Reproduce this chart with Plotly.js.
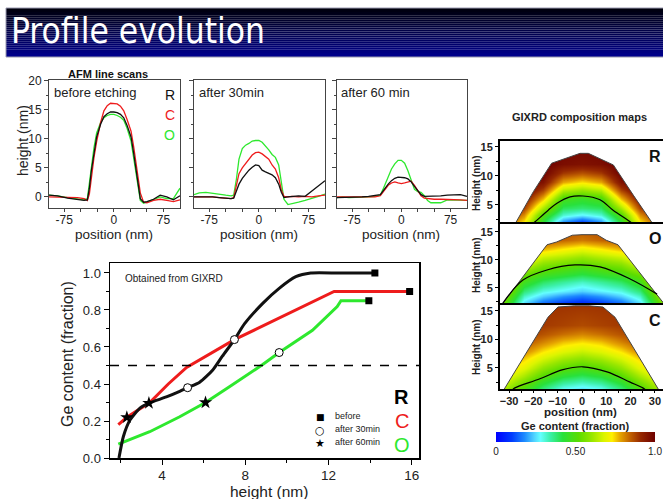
<!DOCTYPE html>
<html><head><meta charset="utf-8">
<script src="https://cdn.plot.ly/plotly-3.0.1.min.js"></script>
<style>html,body{margin:0;padding:0;background:#fff}#plot{width:663px;height:499px}</style>
</head><body><div id="plot"></div>
<script>
// ---------- AFM line scans ----------
const afmX1 = [-98,-85,-70,-55,-45,-40,-37,-34,-30,-26,-20,-15,-10,-5,0,5,10,15,20,26,30,34,37,40,45,50,60,70,80,90,100];
const afm1R = [0.3,0.2,-0.2,-0.4,-0.6,-0.5,1.5,4.5,7.5,10.3,12.5,13.8,14.3,14.6,14.6,14.5,14.2,13.6,12.3,10.3,7.5,4.3,1.8,-0.3,-0.9,-0.8,-0.4,0.3,0,-0.5,0.2];
const afm1C = [0,0,0,-0.1,-0.3,-0.6,0.5,3.5,6.8,9.5,12.8,14.8,15.7,16.1,16.1,16.0,15.6,14.8,13.3,11.3,8.6,5.2,2.8,0.7,-0.9,-1.0,-0.6,-0.4,-0.6,-0.8,-0.5];
const afm1O = [0.3,0.2,-0.1,-0.3,-0.5,-0.3,2.2,5.5,8.5,11,12.8,13.6,14.0,14.2,14.2,14.0,13.7,13.2,11.8,9.6,6.6,3.4,1,-0.6,-1.1,-0.9,-0.5,0,-0.3,-0.3,1.5];

const afmX2 = [-98,-90,-80,-70,-60,-50,-42,-38,-34,-30,-25,-20,-15,-10,-5,0,5,10,15,20,25,30,34,38,44,50,60,70,80,90,100];
const afm2O = [0.4,0.7,0.8,0.6,0.5,0.3,0.2,0.3,3.0,6.5,8.3,8.9,9.2,9.6,9.7,9.7,9.4,8.8,8.1,7.3,6.8,5.5,2.5,-0.4,-1.3,-1.1,-0.9,-0.6,-0.3,0.1,0.5];
const afm2C = [0,0,0.1,0,-0.1,-0.2,-0.3,-0.1,2.0,4.0,5.0,5.8,6.6,7.2,7.6,7.7,7.4,6.9,6.5,5.5,4.8,3.3,1.2,0.1,0,0.1,0,0.1,0,0.2,0.3];
const afm2R = [0,0,0.1,0,-0.1,-0.2,-0.3,-0.2,1.0,2.2,3.2,4.0,4.6,5.1,5.5,5.4,4.6,4.3,4.1,3.8,3.3,2.2,0.8,-0.1,0,0.1,0.2,0.1,1.0,2.0,2.8];

const afmX3 = [-98,-90,-80,-70,-60,-50,-40,-32,-28,-24,-20,-15,-10,-5,0,5,10,15,20,25,30,35,40,45,50,60,70,80,90,100];
const afm3O = [-0.1,0,-0.1,-0.1,0,0,0.1,0.3,1.3,2.4,3.5,4.8,5.7,6.3,6.3,5.8,4.5,3.0,1.3,0.9,0.8,0.2,-0.6,-1.0,-1.0,-1.0,-0.5,-0.5,-0.6,-0.6];
const afm3R = [-0.1,-0.1,0,-0.1,0,0.1,0.2,0.4,1.0,1.7,2.2,2.8,3.2,3.4,3.4,3.3,3.1,2.6,1.8,1.0,0.4,0.1,0.1,0.2,0.2,0.2,0.3,0.4,0.4,0.1];
const afm3C = [0,0,-0.1,0,0,0,0,0.2,0.8,1.5,2.0,2.4,2.6,2.4,2.3,2.4,2.6,2.7,2.0,1.0,0.2,-0.2,-0.3,-0.4,-0.4,-0.4,-0.4,-0.5,-0.5,-0.6];
const afmTickVals = [-75,-50,-25,0,25,50,75];
const afmTickText = ['-75','','','0','','','75'];

// ---------- Ge content vs height ----------
const hR = [1.93,2.14,2.46,2.94,3.37,4.21,4.85,5.23,5.81,6.44,6.9,7.48,7.96,8.84,9.63,10.43,11.15,12.5,14.23];
const gR = [0.0,0.115,0.205,0.27,0.297,0.33,0.36,0.38,0.41,0.476,0.55,0.64,0.725,0.836,0.917,0.98,1.0,1.0,1.0];
const hC = [1.9,2.31,3.41,4.3,5.18,6.3,7.48,8.5,10.0,11.2,12.27,15.9];
const gC = [0.18,0.22,0.30,0.40,0.49,0.565,0.64,0.695,0.777,0.842,0.90,0.90];
const hO = [1.9,3.41,4.85,6.09,7.24,8.84,9.63,11.23,12.42,12.6,13.94];
const gO = [0.075,0.142,0.223,0.30,0.385,0.505,0.57,0.69,0.818,0.85,0.85];
const beforeH = [14.23,15.9,13.94], beforeG = [1.0,0.9,0.85];
const min30H = [5.23,7.48,9.63], min30G = [0.38,0.64,0.57];
const min60H = [3.37,2.31,6.09], min60G = [0.297,0.22,0.30];
const legendNames = ['before','after 30min','after 60min'];
const legendGlyphs = ['\u25A0','\u25CB','\u2605'];
const halfLevel = 0.5;

// ---------- GIXRD composition maps ----------
const mapX = [-36,-24,-16,-8,0,8,16,24,36];
const hsR = [1.5,2.3,3.2,4.5,6,7.5,9,10.5,12,16.5];
const zR = [
 [0.9,0.68,0.38,0.08,0.0,0.08,0.38,0.68,0.9],
 [0.95,0.74,0.44,0.2,0.12,0.2,0.44,0.74,0.95],
 [1,0.8,0.5,0.31,0.27,0.31,0.5,0.8,1],
 [1,0.88,0.62,0.4,0.38,0.4,0.62,0.88,1],
 [1,0.95,0.76,0.48,0.45,0.48,0.76,0.95,1],
 [1,1,0.88,0.64,0.6,0.64,0.88,1,1],
 [1,1,0.96,0.78,0.74,0.78,0.96,1,1],
 [1,1,1,0.89,0.86,0.89,1,1,1],
 [1,1,1,0.97,0.96,0.97,1,1,1],
 [1,1,1,1,1,1,1,1,1]];
const hsO = [1.5,2.5,3.5,4.5,6,7.5,9,10.5,12,13.5,16.5];
const zO = [
 [0.62,0.18,0.08,0.04,0.02,0.04,0.08,0.18,0.62],
 [0.67,0.26,0.16,0.11,0.08,0.11,0.16,0.26,0.67],
 [0.72,0.32,0.24,0.19,0.16,0.19,0.24,0.32,0.72],
 [0.76,0.38,0.30,0.27,0.24,0.27,0.30,0.38,0.76],
 [0.8,0.47,0.39,0.35,0.32,0.35,0.39,0.47,0.8],
 [0.84,0.55,0.48,0.45,0.42,0.45,0.48,0.55,0.84],
 [0.87,0.65,0.56,0.53,0.5,0.53,0.56,0.65,0.87],
 [0.88,0.75,0.66,0.63,0.6,0.63,0.66,0.75,0.88],
 [0.88,0.84,0.77,0.73,0.7,0.73,0.77,0.84,0.88],
 [0.88,0.88,0.86,0.84,0.82,0.84,0.86,0.88,0.88],
 [0.88,0.88,0.88,0.88,0.88,0.88,0.88,0.88,0.88]];
const hsC = [1.2,2.5,3.5,5,6.5,8,9.5,11,12.5,16.5];
const zC = [
 [0.68,0.48,0.36,0.27,0.24,0.27,0.36,0.48,0.68],
 [0.72,0.56,0.44,0.36,0.33,0.36,0.44,0.56,0.72],
 [0.76,0.62,0.51,0.43,0.40,0.43,0.51,0.62,0.76],
 [0.8,0.69,0.59,0.52,0.49,0.52,0.59,0.69,0.8],
 [0.84,0.75,0.67,0.61,0.58,0.61,0.67,0.75,0.84],
 [0.88,0.81,0.74,0.69,0.66,0.69,0.74,0.81,0.88],
 [0.9,0.86,0.81,0.76,0.74,0.76,0.81,0.86,0.9],
 [0.9,0.89,0.86,0.83,0.81,0.83,0.86,0.89,0.9],
 [0.9,0.9,0.89,0.88,0.87,0.88,0.89,0.9,0.9],
 [0.9,0.9,0.9,0.9,0.9,0.9,0.9,0.9,0.9]];
// dome outlines and 0.5 contour lines
const outXR = [-28.4,-20,-12.5,-6.3,-0.8,2.6,6.7,12.9,21.1,30.2];
const outHR = [1.1,7.3,12.2,13.1,13.9,13.9,13.1,11.9,6.7,1.1];
const conXR = [-21,-19.3,-13.9,-10.3,-4.9,0.4,7.4,12.8,19.8,21.5];
const conHR = [1.5,2.1,4.1,5.3,6.4,6.55,5.9,4.1,2.1,1.5];
const outXO = [-33.3,-14.4,-10.4,-4,0,6.2,10,14.8,30.9,34.5];
const outHO = [1.8,12.7,13.2,14.4,14.5,14.5,13.5,12.7,3.75,1.8];
const conXO = [-32.7,-24.3,-14.4,-2.9,7.4,19.8,30.9];
const conHO = [2.2,6.4,8.2,9.1,8.75,6.6,3.9];
const outXC = [-32.4,-14,-9.9,-3,3,8.6,13.6,31.8];
const outHC = [1.0,13.9,15.7,15.9,15.9,15.7,13.9,1.0];
const conXC = [-28.5,-27.6,-17.3,-8.2,0.4,10.3,19.8,25,26];
const conHC = [1.2,1.5,3.1,4.65,5.2,4.3,2.5,1.5,1.2];
const cbVals = [0,0.5,1], cbText = ['0','0.50','1.0'];

// ---------- layout helpers ----------
const W = 663, H = 499;
const fx = p => p / W, fy = p => 1 - p / H;
const BLACK = '#111111', RED = '#ee1c1c', GREEN = '#2ee82e';
const FONT = 'Liberation Sans, Arial, sans-serif';

const geScale = [
 [0.00,'rgb(0,0,255)'],[0.10,'rgb(0,60,255)'],[0.18,'rgb(30,140,255)'],
 [0.24,'rgb(80,210,255)'],[0.28,'rgb(100,255,255)'],[0.34,'rgb(60,240,170)'],
 [0.42,'rgb(40,225,60)'],[0.52,'rgb(90,220,0)'],[0.60,'rgb(150,230,0)'],
 [0.68,'rgb(220,245,0)'],[0.73,'rgb(255,240,0)'],[0.78,'rgb(230,165,0)'],
 [0.84,'rgb(195,100,0)'],[0.91,'rgb(150,40,0)'],[1.00,'rgb(110,0,0)']];

const traces = [];
function afmLines(xa, ya, xs, r, c, o){
  [[o,GREEN],[c,RED],[r,BLACK]].forEach(([y,col])=>{
    traces.push({type:'scatter',mode:'lines',x:xs,y:y,xaxis:xa,yaxis:ya,
      line:{color:col,width:1.3},showlegend:false,hoverinfo:'skip'});
  });
}
afmLines('x','y',afmX1,afm1R,afm1C,afm1O);
afmLines('x2','y2',afmX2,afm2R,afm2C,afm2O);
afmLines('x3','y3',afmX3,afm3R,afm3C,afm3O);

// Ge content chart
[[hO,gO,GREEN,'linear'],[hC,gC,RED,'linear'],[hR,gR,BLACK,'spline']].forEach(([x,y,col,sh])=>{
  traces.push({type:'scatter',mode:'lines',x:x,y:y,xaxis:'x4',yaxis:'y4',
    line:{color:col,width:3,shape:sh,smoothing:0.6},showlegend:false,hoverinfo:'skip'});
});
traces.push({type:'scatter',mode:'markers',name:legendNames[0],x:beforeH,y:beforeG,xaxis:'x4',yaxis:'y4',
  marker:{symbol:'square',size:7,color:'#000'},showlegend:false});
traces.push({type:'scatter',mode:'markers',name:legendNames[1],x:min30H,y:min30G,xaxis:'x4',yaxis:'y4',
  marker:{symbol:'circle',size:8,color:'#fff',line:{color:'#000',width:1}},showlegend:false});
traces.push({type:'scatter',mode:'markers',name:legendNames[2],x:min60H,y:min60G,xaxis:'x4',yaxis:'y4',
  marker:{symbol:'star',size:10,color:'#000'},showlegend:false});

// composition maps
function mapTraces(xa, ya, hs, z, ox, oh, cx, ch, showScale){
  const t = {type:'heatmap',x:mapX,y:hs,z:z,xaxis:xa,yaxis:ya,zmin:0,zmax:1,
    colorscale:geScale,zsmooth:'best',showscale:showScale,hoverinfo:'skip'};
  if(showScale){
    t.colorbar = {orientation:'h',x:fx(575.5),xanchor:'center',y:fy(432),yanchor:'top',
      len:159,lenmode:'pixels',thickness:10,thicknessmode:'pixels',xpad:0,ypad:0,
      outlinewidth:0,tickvals:cbVals,ticktext:cbText,ticks:'',
      tickfont:{size:10,color:'#222',family:FONT}};
  }
  traces.push(t);
  const mx = [-40].concat(ox,[40,40,-40]);
  const my = [0].concat(oh,[0,20,20]);
  traces.push({type:'scatter',mode:'lines',x:mx,y:my,xaxis:xa,yaxis:ya,fill:'toself',
    fillcolor:'#ffffff',line:{width:0,color:'rgba(0,0,0,0)'},showlegend:false,hoverinfo:'skip'});
  traces.push({type:'scatter',mode:'lines',x:ox,y:oh,xaxis:xa,yaxis:ya,
    line:{color:'#444',width:1},showlegend:false,hoverinfo:'skip'});
  traces.push({type:'scatter',mode:'lines',x:cx,y:ch,xaxis:xa,yaxis:ya,
    line:{color:'#000',width:1.2,shape:'spline'},showlegend:false,hoverinfo:'skip'});
}
mapTraces('x5','y5',hsR,zR,outXR,outHR,conXR,conHR,false);
mapTraces('x6','y6',hsO,zO,outXO,outHO,conXO,conHO,false);
mapTraces('x7','y7',hsC,zC,outXC,outHC,conXC,conHC,true);

// axes
function afmX(l,r,anchor){return {domain:[fx(l),fx(r)],anchor:anchor,range:[-98,100],
  showline:true,mirror:true,linecolor:'#444',linewidth:1,ticks:'outside',ticklen:3,tickcolor:'#444',
  tickmode:'array',tickvals:afmTickVals,ticktext:afmTickText,zeroline:false,showgrid:false,
  ticklabelstandoff:-2,
  tickfont:{size:12,color:'#222',family:FONT}};}
function afmY(t,b,anchor,labels){return {domain:[fy(b),fy(t)],anchor:anchor,range:[-1.9,20.1],
  showline:true,mirror:true,linecolor:'#444',linewidth:1,ticks:'outside',ticklen:4,tickcolor:'#444',
  tickmode:'array',tickvals:[0,5,10,15,20],showticklabels:labels,zeroline:false,showgrid:false,
  minor:{tickmode:'linear',tick0:0,dtick:2.5,ticks:'outside',ticklen:2,tickcolor:'#444'},
  tickfont:{size:12,color:'#222',family:FONT}};}
function mapXa(anchor,labels){return {domain:[fx(500),1],anchor:anchor,range:[-33.74,33.33],
  showline:true,mirror:true,linecolor:'#000',linewidth:2,ticks:'outside',ticklen:2,tickcolor:'#000',
  tickmode:'linear',tick0:0,dtick:10,showticklabels:labels,zeroline:false,showgrid:false,
  ticklabelstandoff:-1,
  minor:{tickmode:'linear',tick0:0,dtick:5,ticks:'outside',ticklen:2},
  tickfont:{size:11,color:'#222',family:FONT,weight:'bold'}};}
function mapYa(t,b,anchor,rng){return {domain:[fy(b),fy(t)],anchor:anchor,range:rng,
  showline:true,mirror:true,linecolor:'#000',linewidth:2,ticks:'outside',ticklen:3,tickcolor:'#000',
  tickmode:'array',tickvals:[5,10,15],zeroline:false,showgrid:false,
  minor:{tickmode:'linear',tick0:0,dtick:2.5,ticks:'outside',ticklen:2},
  tickfont:{size:11,color:'#222',family:FONT,weight:'bold'}};}

const annotations = [];
function txt(x,y,s,opt){annotations.push(Object.assign({xref:'paper',yref:'paper',x:fx(x),y:fy(y),
  text:s,showarrow:false,xanchor:'center',yanchor:'middle',
  font:{family:FONT,size:12,color:'#222'}},opt||{}));}
txt(9,31,'Profile evolution',{xanchor:'left',font:{family:'DejaVu Sans Condensed, Liberation Sans',size:35,color:'#ffffff'}});
txt(108,74,'AFM line scans',{font:{family:FONT,size:11,color:'#111',weight:'bold'}});
txt(52,93,'before etching',{xanchor:'left',font:{family:FONT,size:13,color:'#222'}});
txt(197,93,'after 30min',{xanchor:'left',font:{family:FONT,size:13,color:'#222'}});
txt(339,93,'after 60 min',{xanchor:'left',font:{family:FONT,size:13,color:'#222'}});
txt(170,95,'R',{font:{family:FONT,size:14,color:BLACK}});
txt(170,115,'C',{font:{family:FONT,size:14,color:RED}});
txt(170,135,'O',{font:{family:FONT,size:14,color:GREEN}});
txt(23,141,'height (nm)',{textangle:-90,font:{family:FONT,size:14,color:'#222'}});
txt(114,234,'position (nm)',{font:{family:FONT,size:13.5,color:'#222'}});
txt(259,234,'position (nm)',{font:{family:FONT,size:13.5,color:'#222'}});
txt(401,234,'position (nm)',{font:{family:FONT,size:13.5,color:'#222'}});
txt(123,278,'Obtained from GIXRD',{xanchor:'left',font:{family:FONT,size:10,color:'#222'}});
for(let i=0;i<3;i++){
  txt(320,417+i*13,legendGlyphs[i],{font:{family:'DejaVu Sans',size:i===0?9:11,color:'#000'}});
  txt(333,416+i*13,legendNames[i],{xanchor:'left',font:{family:FONT,size:9,color:'#222'}});
}
txt(402,397,'R',{font:{family:FONT,size:20,color:'#000',weight:'bold'}});
txt(402,421,'C',{font:{family:FONT,size:20,color:RED}});
txt(402,445,'O',{font:{family:FONT,size:20,color:GREEN}});
txt(67,354,'Ge content (fraction)',{textangle:-90,font:{family:FONT,size:16,color:'#222'}});
txt(269,491,'height (nm)',{font:{family:FONT,size:15.5,color:'#222'}});
txt(579,117,'GIXRD composition maps',{font:{family:FONT,size:11,color:'#222',weight:'bold'}});
txt(476,183,'Height (nm)',{textangle:-90,font:{family:FONT,size:10,color:'#222',weight:'bold'}});
txt(476,265,'Height (nm)',{textangle:-90,font:{family:FONT,size:10,color:'#222',weight:'bold'}});
txt(476,347,'Height (nm)',{textangle:-90,font:{family:FONT,size:10,color:'#222',weight:'bold'}});
txt(655,156,'R',{font:{family:FONT,size:16,color:'#111',weight:'bold'}});
txt(655,238,'O',{font:{family:FONT,size:16,color:'#111',weight:'bold'}});
txt(655,320,'C',{font:{family:FONT,size:16,color:'#111',weight:'bold'}});
txt(580,412,'position (nm)',{font:{family:FONT,size:11.5,color:'#222',weight:'bold'}});
txt(575,426,'Ge content (fraction)',{font:{family:FONT,size:11,color:'#222',weight:'bold'}});

// banner gradient strips
const shapes = [];
const bTop = 8, bBot = 57, nStrip = 25;
for(let i=0;i<nStrip;i++){
  const t = i/(nStrip-1);
  const b = Math.round(12 + t*128);
  shapes.push({type:'rect',xref:'paper',yref:'paper',x0:fx(6),x1:1,
    y0:fy(bTop+(bBot-bTop)*(i+1)/nStrip),y1:fy(bTop+(bBot-bTop)*i/nStrip),
    fillcolor:'rgb(0,0,'+b+')',line:{width:0},layer:'below'});
}
shapes.push({type:'rect',xref:'paper',yref:'paper',x0:fx(6),x1:1.01,y0:fy(bBot),y1:fy(bTop),
  line:{color:'#9a9ab0',width:1},fillcolor:'rgba(0,0,0,0)',layer:'below'});
shapes.push({type:'line',xref:'x4 domain',x0:0,x1:1,yref:'y4',y0:halfLevel,y1:halfLevel,
  line:{color:'#000',width:1.5,dash:'dash'}});

const layout = {
  width:W,height:H,margin:{l:0,r:0,t:0,b:0},paper_bgcolor:'#fff',plot_bgcolor:'#fff',
  font:{family:FONT,color:'#222'},
  showlegend:false,
  xaxis:afmX(49,180,'y'), yaxis:afmY(80,208,'x',true),
  xaxis2:afmX(194,325,'y2'), yaxis2:afmY(80,208,'x2',false),
  xaxis3:afmX(337,467,'y3'), yaxis3:afmY(80,208,'x3',false),
  xaxis4:{domain:[fx(110),fx(419)],anchor:'y4',range:[1.5,16.35],showline:true,mirror:true,
    linecolor:'#000',linewidth:1.5,ticks:'outside',ticklen:5,tickcolor:'#000',tickmode:'linear',
    tick0:0,dtick:4,zeroline:false,showgrid:false,ticklabelstandoff:-1,
    minor:{tickmode:'linear',tick0:0,dtick:2,ticks:'outside',ticklen:3},
    tickfont:{size:13.5,color:'#222',family:FONT}},
  yaxis4:{domain:[fy(458),fy(263)],anchor:'x4',range:[0,1.054],showline:true,mirror:true,
    linecolor:'#000',linewidth:1.5,ticks:'outside',ticklen:5,tickcolor:'#000',tickmode:'linear',
    tick0:0,dtick:0.2,tickformat:'.1f',zeroline:false,showgrid:false,
    minor:{tickmode:'linear',tick0:0,dtick:0.1,ticks:'outside',ticklen:3},
    tickfont:{size:13,color:'#222',family:FONT}},
  xaxis5:mapXa('y5',false), yaxis5:mapYa(141,224,'x5',[1.72,16.03]),
  xaxis6:mapXa('y6',false), yaxis6:mapYa(224,305,'x6',[1.96,16.4]),
  xaxis7:mapXa('y7',true), yaxis7:mapYa(305,389,'x7',[1.3,16.05]),
  annotations:annotations, shapes:shapes
};
Plotly.newPlot('plot',traces,layout,{displayModeBar:false,staticPlot:true});
</script></body></html>
